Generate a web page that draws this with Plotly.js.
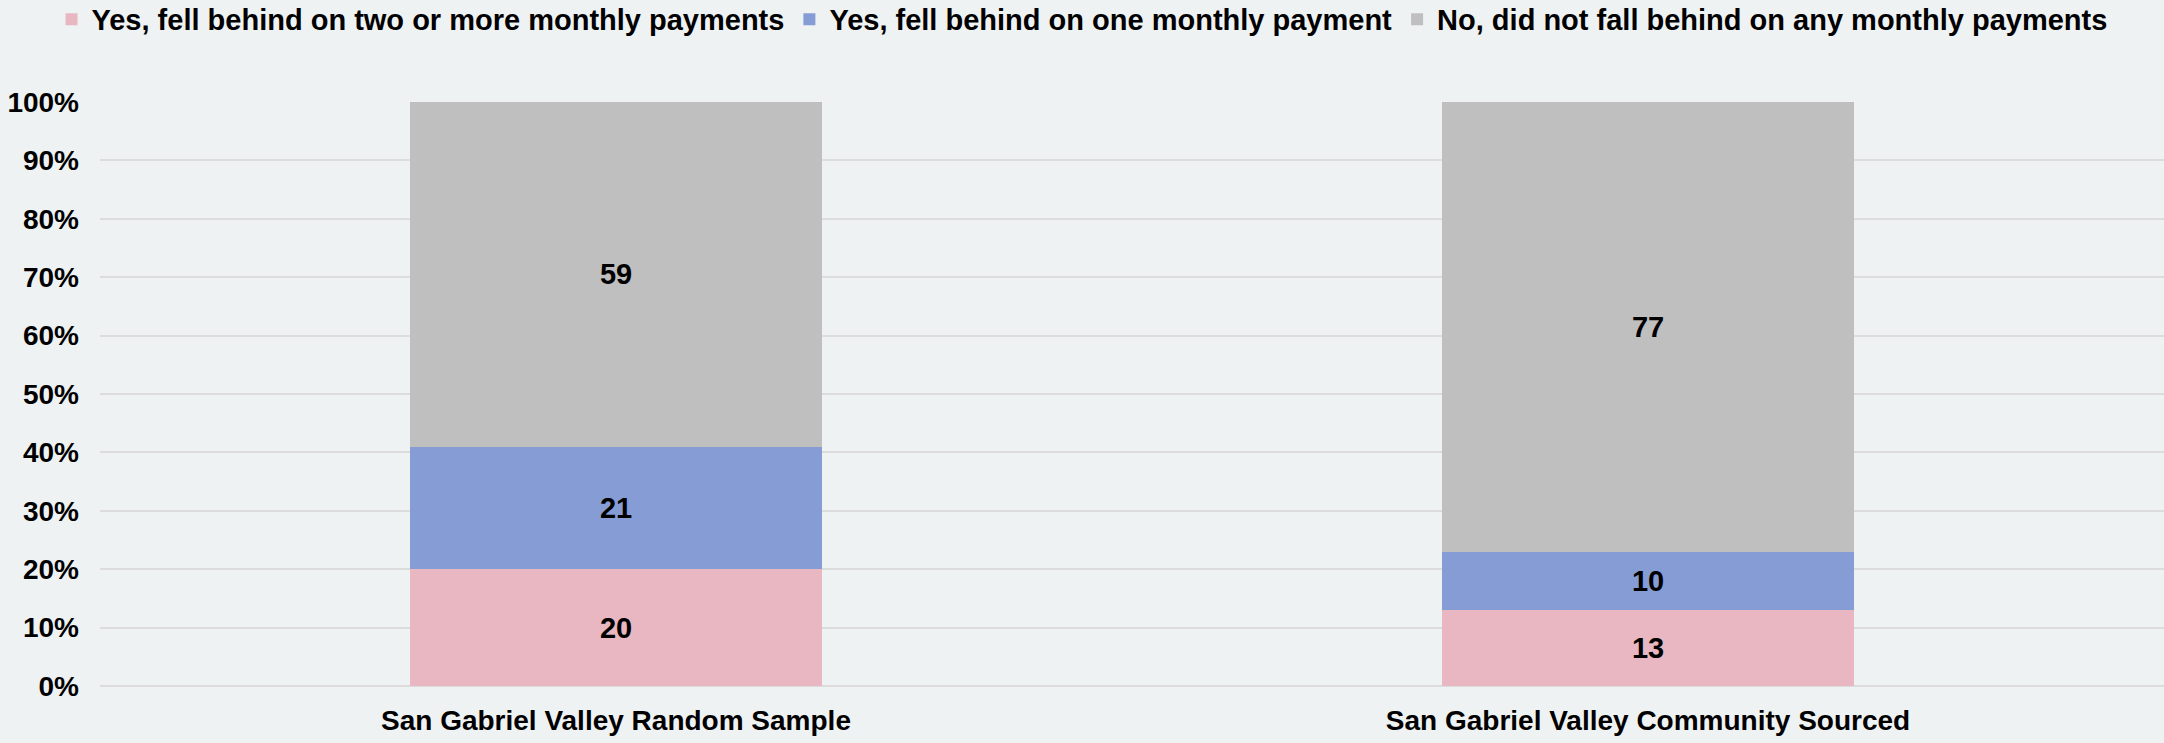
<!DOCTYPE html>
<html>
<head>
<meta charset="utf-8">
<script src="https://cdn.plot.ly/plotly-3.0.1.min.js"></script>
<style>html,body{margin:0;padding:0;background:#eff2f3;}#chart{width:2164px;height:743px;}</style>
</head>
<body>
<div id="chart"></div>
<script>
const categories = ["San Gabriel Valley Random Sample", "San Gabriel Valley Community Sourced"];
const seriesNames = [
  "Yes, fell behind on two or more monthly payments",
  "Yes, fell behind on one monthly payment",
  "No, did not fall behind on any monthly payments"
];
const twoOrMore = [20, 13];
const oneMonth = [21, 10];
const noneBehind = [59, 77];
const seriesColors = ["#e8b7c1", "#869cd5", "#bfbfbf"];
const yTicks = [0, 10, 20, 30, 40, 50, 60, 70, 80, 90, 100];

const FONT = "Liberation Sans, Arial, sans-serif";
const seriesValues = [twoOrMore, oneMonth, noneBehind];
const traces = seriesValues.map((vals, i) => ({
  type: "bar",
  name: seriesNames[i],
  x: categories,
  y: vals,
  marker: {color: seriesColors[i], line: {width: 0}},
  text: vals.map(String),
  texttemplate: "%{text}",
  textposition: "inside",
  insidetextanchor: "middle",
  textangle: 0,
  textfont: {family: FONT, size: 29, color: "#000000", weight: 700},
  hoverinfo: "skip"
}));

const layout = {
  width: 2164,
  height: 743,
  paper_bgcolor: "#eff2f3",
  plot_bgcolor: "#eff2f3",
  barmode: "stack",
  bargap: 0.6,
  margin: {l: 100, r: 0, t: 102, b: 57, pad: 0},
  font: {family: FONT, size: 28, color: "#000000", weight: 700},
  showlegend: true,
  legend: {
    orientation: "h",
    xref: "container",
    yref: "container",
    x: 0.5,
    xanchor: "center",
    y: 0.974,
    yanchor: "middle",
    bgcolor: "rgba(0,0,0,0)",
    font: {family: FONT, size: 29, color: "#000000", weight: 700},
    traceorder: "normal",
    itemclick: false
  },
  xaxis: {
    type: "category",
    showgrid: false,
    showline: false,
    zeroline: false,
    ticks: "",
    tickfont: {family: FONT, size: 28, color: "#000000", weight: 700},
    ticklabelstandoff: 15
  },
  yaxis: {
    range: [0, 100],
    tickvals: yTicks,
    ticktext: yTicks.map(v => v + "%"),
    showgrid: true,
    gridcolor: "#dcdcdc",
    gridwidth: 2,
    zeroline: true,
    zerolinecolor: "#dcdcdc",
    zerolinewidth: 2,
    showline: false,
    ticks: "",
    tickfont: {family: FONT, size: 28, color: "#000000", weight: 700},
    ticklabelstandoff: 20
  },
  hovermode: false
};

Plotly.newPlot("chart", traces, layout, {displayModeBar: false, staticPlot: true});
</script>
</body>
</html>
